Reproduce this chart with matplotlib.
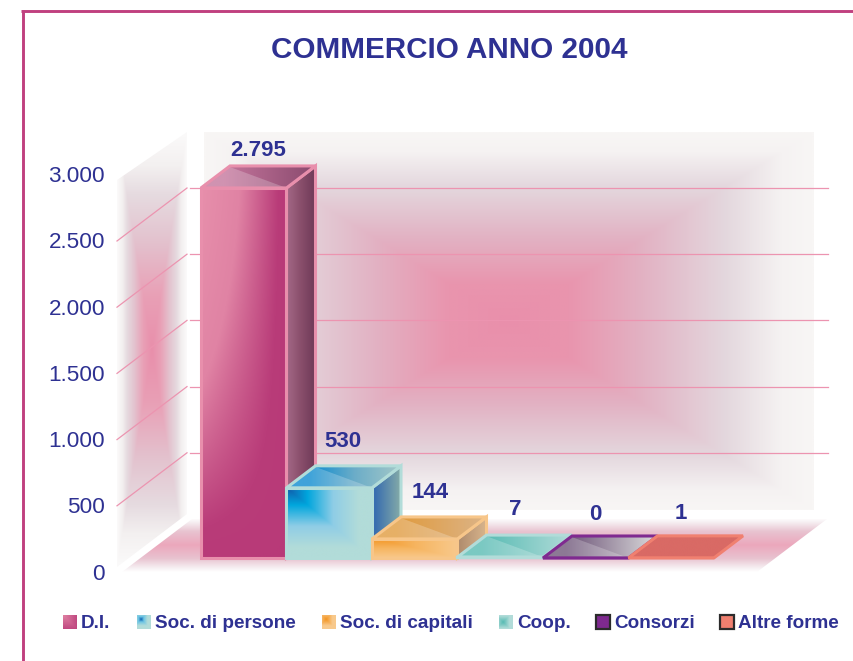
import numpy as np
import matplotlib
matplotlib.use("Agg")
import matplotlib.pyplot as plt
from matplotlib.colors import LinearSegmentedColormap
from matplotlib.patches import Polygon

plt.rcParams['font.family'] = ['Liberation Sans', 'DejaVu Sans']

categories = ["D.I.", "Soc. di persone", "Soc. di capitali", "Coop.", "Consorzi", "Altre forme"]
values = [2795, 530, 144, 7, 0, 1]
value_labels = ["2.795", "530", "144", "7", "0", "1"]
y_ticks = [0, 500, 1000, 1500, 2000, 2500, 3000]
y_tick_labels = ["0", "500", "1.000", "1.500", "2.000", "2.500", "3.000"]
grid_values = [500, 1000, 1500, 2000, 2500]

BLUE = "#2e3192"
FRAME = "#c0407f"
GRID = "#ec94b0"
W, H = 854, 661

# scale of the picture: one category = 85.5 px, 500 units = 66.2 px
CAT_PX = 85.5
VAL_PX = 66.2 / 500
X_ZERO = 243.75
Y_ZERO = 572.0

def x_of(px):
    return (px - X_ZERO) / CAT_PX

def y_of(py):
    return (Y_ZERO - py) / VAL_PX

# 3d depth of the room and of the bars, in data units
ROOM_DX = 70 / CAT_PX
ROOM_DY = 53 / VAL_PX
BAR_DX = 29 / CAT_PX
BAR_DY = 22 / VAL_PX
BAR_BASE = 14 / VAL_PX

def pyramid(u, v):
    return np.maximum(np.abs(2 * u - 1), np.abs(2 * v - 1))

def gradient(ax, poly, stops, func, zorder, edge=None, lw=2.0):
    poly = np.array(poly, dtype=float)
    x0, x1 = poly[:, 0].min(), poly[:, 0].max()
    y0, y1 = poly[:, 1].min(), poly[:, 1].max()
    u, v = np.meshgrid(np.linspace(0, 1, 200), np.linspace(0, 1, 200))
    cmap = LinearSegmentedColormap.from_list("g", stops)
    im = ax.imshow(func(u, v), cmap=cmap, vmin=0, vmax=1, extent=(x0, x1, y0, y1),
                   origin="upper", aspect="auto", zorder=zorder, interpolation="bilinear")
    clip = Polygon(poly, closed=True, transform=ax.transData)
    im.set_clip_path(clip)
    if edge:
        ax.add_patch(Polygon(poly, closed=True, fill=False, edgecolor=edge, linewidth=lw,
                             joinstyle="miter", zorder=zorder + 0.1))

fig = plt.figure(figsize=(W / 100, H / 100), dpi=100)
ax = fig.add_axes([0, 0, 1, 1])
ax.axis("off")

# frame
fig.add_artist(plt.Line2D([22.5 / W, 22.5 / W], [0, 1 - 10 / H], color=FRAME, lw=2.1, solid_capstyle="butt"))
fig.add_artist(plt.Line2D([21 / W, 1], [1 - 11 / H, 1 - 11 / H], color=FRAME, lw=2.1, solid_capstyle="butt"))

# back wall
wall_stops = [(0, "#e98fab"), (0.2, "#e995ae"), (0.45, "#e2b3c4"), (0.72, "#e4d8de"), (0.9, "#f5f2f2"), (1, "#f8f6f5")]
gradient(ax, [(x_of(204), y_of(510)), (x_of(814), y_of(510)), (x_of(814), y_of(132)), (x_of(204), y_of(132))],
         wall_stops, pyramid, 1)

# side wall
side_x = x_of(117)
side_top = y_of(180)
side_bot = y_of(567)
side = [(side_x, side_bot), (side_x + ROOM_DX, side_bot + ROOM_DY), (side_x + ROOM_DX, y_of(132)), (side_x, side_top)]
side_stops = [(0, "#e88fab"), (0.25, "#e9a0b6"), (0.5, "#e3c2ce"), (0.72, "#e6dbe0"), (0.85, "#f3f0f0"), (1, "#fbfafa")]
gradient(ax, side, side_stops, pyramid, 1)

# floor
floor_l = x_of(122)
floor_r = x_of(757)
floor = [(floor_l, 0), (floor_r, 0), (x_of(827), ROOM_DY), (floor_l + ROOM_DX, ROOM_DY)]
floor_stops = [(0, "#eca7bc"), (0.5, "#e8c3d0"), (0.85, "#f6eff2"), (1, "#ffffff")]
gradient(ax, floor, floor_stops, lambda u, v: np.abs(2 * v - 1), 1)

# gridlines, with the small white gap where the side wall meets the back
for g in grid_values:
    ax.plot([side_x, side_x + ROOM_DX], [g, g + ROOM_DY], color=GRID, lw=0.9, zorder=2)
    ax.plot([x_of(190), x_of(828)], [g + ROOM_DY, g + ROOM_DY], color=GRID, lw=0.9, zorder=2)

# t is the position in a colour stop list, u left to right, v top to bottom
front_styles = [
    ([(0, "#e78fab"), (0.45, "#e083a4"), (0.9, "#b93c79"), (1, "#b83a78")],
     lambda u, v: (1 - (1 - u) * (1 - v ** 1.3)).clip(0, 1)),
    ([(0, "#1257a8"), (0.25, "#00a6dd"), (0.55, "#8fcde6"), (0.85, "#b2dcd9"), (1, "#b2dcd9")],
     lambda u, v: np.maximum(u, v).clip(0, 1)),
    ([(0, "#f39420"), (0.5, "#f6b45f"), (1, "#f8c98c")],
     lambda u, v: np.maximum(u, v).clip(0, 1)),
    ([(0, "#b2dcd9"), (1, "#b2dcd9")], lambda u, v: u),
    ([(0, "#7f2a90"), (1, "#7f2a90")], lambda u, v: u),
    ([(0, "#f08070"), (1, "#f08070")], lambda u, v: u),
]
top_stops = [
    [(0, "#c4759c"), (1, "#8a4a6e")],
    [(0, "#0a8ad0"), (0.5, "#6cadc8"), (1, "#a3c8c8")],
    [(0, "#e09a3c"), (1, "#dcb488")],
    [(0, "#55bab2"), (1, "#b2dcd9")],
    [(0, "#6d5478"), (1, "#dcdcdc")],
    [(0, "#d96a65"), (1, "#d96a65")],
]
side_colors = [
    [(0, "#a56a88"), (0.5, "#8a4f6c"), (1, "#6f3a58")],
    [(0, "#2f66b0"), (1, "#86aca8")],
    [(0, "#ad8a6c"), (1, "#d8b48c")],
    [(0, "#b2dcd9"), (1, "#b2dcd9")],
    [(0, "#7f2a90"), (1, "#7f2a90")],
    [(0, "#f08070"), (1, "#f08070")],
]
edges = ["#e88fac", "#b2dcd9", "#f7c68a", "#b2dcd9", "#7f2a90", "#f08070"]
lid_light = [0.22, 0.22, 0.22, 0.22, 0.22, 0.0]

# bars are drawn left to right so each one sits over the side of the previous one
for i, val in enumerate(values):
    x0, x1 = i - 0.5, i + 0.5
    y0, y1 = BAR_BASE, BAR_BASE + val
    z = 3 + i
    lw = 2.2
    top = [(x0, y1), (x1, y1), (x1 + BAR_DX, y1 + BAR_DY), (x0 + BAR_DX, y1 + BAR_DY)]
    right = [(x1, y0), (x1 + BAR_DX, y0 + BAR_DY), (x1 + BAR_DX, y1 + BAR_DY), (x1, y1)]
    if val > 10:
        gradient(ax, right, side_colors[i], lambda u, v: u, z, edges[i], lw)
    gradient(ax, top, top_stops[i], lambda u, v: ((u - 0.2) / 0.8).clip(0, 1), z + 0.2)
    # lighter triangle on the lid
    ax.add_patch(Polygon([top[0], top[1], (x0 + BAR_DX, y1 + BAR_DY * 0.95)], closed=True,
                         facecolor="#ffffff", alpha=lid_light[i], edgecolor="none", zorder=z + 0.25))
    ax.add_patch(Polygon(top, closed=True, fill=False, edgecolor=edges[i], linewidth=lw,
                         joinstyle="miter", zorder=z + 0.5))
    if val > 10:
        stops, func = front_styles[i]
        gradient(ax, [(x0, y0), (x1, y0), (x1, y1), (x0, y1)], stops, func, z + 0.6, edges[i], lw)
    else:
        ax.bar(i, val, width=1, bottom=y0, color=edges[i], edgecolor=edges[i], linewidth=lw * 0.8, zorder=z + 0.6)

# value labels, small nudges in px as in the picture
label_dx = [0, -1, 1, 1, -5, -5]
label_dy = [15, 24, 24, 26, 21, 22]
for i, val in enumerate(values):
    tx = i + BAR_DX / 2 + label_dx[i] / CAT_PX
    ty = BAR_BASE + val + BAR_DY + label_dy[i] / VAL_PX
    ax.text(tx, ty, value_labels[i], ha="center", va="center", color=BLUE, fontsize=16,
            fontweight="bold", zorder=20)

# y tick labels
for t, lab in zip(y_ticks, y_tick_labels):
    ax.text(x_of(105), t - 2 / VAL_PX, lab, ha="right", va="center", color=BLUE, fontsize=16.2, zorder=20)

ax.text(x_of(449), y_of(50.5), "COMMERCIO ANNO 2004", ha="center", va="center", color=BLUE,
        fontsize=21.3, fontweight="bold", zorder=20)

# legend
legend_px = [63, 137, 322, 499, 596, 720]
legend_faces = [
    ([(0, "#b93c79"), (1, "#e78fab")], lambda u, v: 1 - np.maximum(u, v) * 0.7 - 0.15, None),
    ([(0, "#0a5fb0"), (0.4, "#6cc4e4"), (1, "#b2dcd9")], lambda u, v: np.maximum(np.abs(u - 0.3), np.abs(v - 0.3)) * 2.2, None),
    ([(0, "#f39420"), (1, "#f8c98c")], lambda u, v: np.maximum(np.abs(u - 0.3), np.abs(v - 0.3)) * 2.2, None),
    ([(0, "#55bab2"), (1, "#b2dcd9")], lambda u, v: np.maximum(np.abs(u - 0.3), np.abs(v - 0.5)) * 2.2, None),
    ([(0, "#7f2a90"), (1, "#7f2a90")], lambda u, v: u, "#2b2b2b"),
    ([(0, "#f08070"), (1, "#f08070")], lambda u, v: u, "#2b2b2b"),
]
for name, px, (stops, func, edge) in zip(categories, legend_px, legend_faces):
    sq = [(x_of(px), y_of(629)), (x_of(px + 14), y_of(629)), (x_of(px + 14), y_of(615)), (x_of(px), y_of(615))]
    gradient(ax, sq, stops, func, 20, edge, 1.6)
    ax.text(x_of(px + 18), y_of(623.5), name, ha="left", va="center", color=BLUE, fontsize=13.6,
            fontweight="bold", zorder=20)

ax.set_xlim(x_of(0), x_of(W))
ax.set_ylim(y_of(H), y_of(0))
fig.savefig("out.png", dpi=100)
